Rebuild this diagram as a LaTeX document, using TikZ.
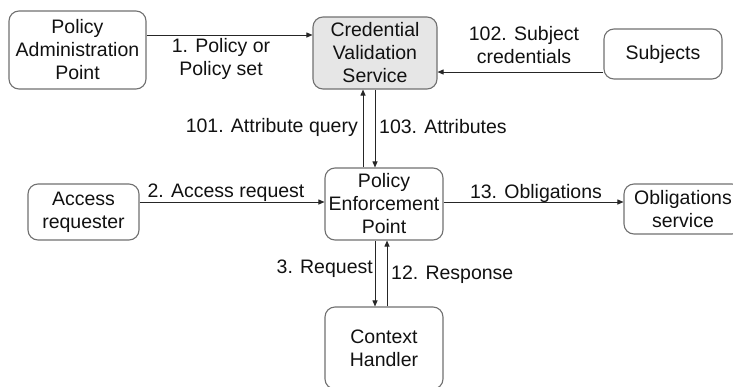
\documentclass[tikz,border=0pt]{standalone}
\usepackage{fontspec}
\setmainfont{Liberation Sans}
\usetikzlibrary{arrows.meta}
\definecolor{boxline}{HTML}{707070}
\definecolor{cvsfill}{HTML}{E6E6E6}
\definecolor{txt}{HTML}{111111}
\tikzset{
  box/.style={draw=boxline, line width=1.1pt, rounded corners=10pt, align=center,
    inner sep=0pt, font=\fontsize{19.5}{23}\selectfont, text=txt},
  lbl/.style={inner sep=0pt, align=center, font=\fontsize{19.5}{23}\selectfont, text=txt},
  arr/.style={draw=black!85, line width=0.9pt, -{Triangle[length=6pt,width=5pt]}},
}
\begin{document}
\begin{tikzpicture}[x=1pt,y=-1pt]
\useasboundingbox (0,0) rectangle (733,386);
% boxes
\node[box, minimum width=137pt, minimum height=78pt] (pap) at (77.5,50) {Policy\\Administration\\Point};
\node[box, fill=cvsfill, minimum width=124pt, minimum height=72pt] (cvs) at (375,53) {Credential\\Validation\\Service};
\node[box, minimum width=118pt, minimum height=50pt] (sub) at (663,54) {Subjects};
\node[box, minimum width=111pt, minimum height=56pt] (ar) at (83.5,212) {Access\\requester};
\node[box, minimum width=118pt, minimum height=72pt] (pep) at (384,204) {Policy\\Enforcement\\Point};
\node[box, minimum width=118pt, minimum height=50pt] (obl) at (683,209) {Obligations\\service};
\node[box, minimum width=118pt, minimum height=82pt] (ch) at (384,348) {Context\\Handler};
% guide coordinates
\coordinate (h1) at (0,35);
\coordinate (h102) at (0,72);
\coordinate (hmid) at (0,202);
\coordinate (v101) at (363,0);
\coordinate (v103) at (375,0);
\coordinate (v12) at (387,0);
% connectors
\draw[arr] (pap.east |- h1) -- (cvs.west |- h1);
\draw[arr] (sub.west |- h102) -- (cvs.east |- h102);
\draw[arr] (pep.north -| v101) -- (cvs.south -| v101);
\draw[arr] (cvs.south -| v103) -- (pep.north -| v103);
\draw[arr] (ar.east |- hmid) -- (pep.west |- hmid);
\draw[arr] (pep.east |- hmid) -- (obl.west |- hmid);
\draw[arr] (pep.south -| v103) -- (ch.north -| v103);
\draw[arr] (ch.north -| v12) -- (pep.south -| v12);
% labels
\node[lbl] (l1) at (221,58.5) {1. Policy or\\Policy set};
\node[lbl] (l102) at (524,45) {102. Subject\\credentials};
\node[lbl, anchor=east] (l101) at (358,127) {101. Attribute query};
\node[lbl, anchor=west] (l103) at (379,127) {103. Attributes};
\node[lbl] (l2) at (226,193) {2. Access request};
\node[lbl] (l13) at (536,193) {13. Obligations};
\node[lbl, anchor=east] (l3) at (373,269) {3. Request};
\node[lbl, anchor=west] (l12) at (391,275) {12. Response};
\end{tikzpicture}
\end{document}
